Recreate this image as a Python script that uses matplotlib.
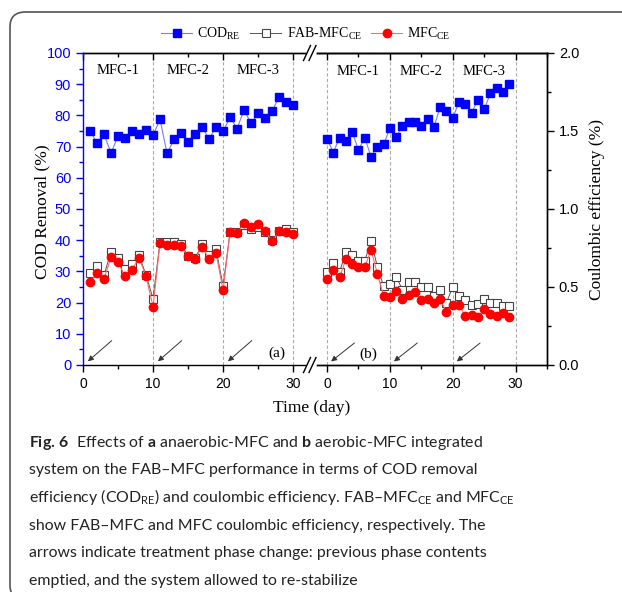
import matplotlib
matplotlib.use("Agg")
import matplotlib.pyplot as plt
from matplotlib.lines import Line2D
from matplotlib.patches import FancyBboxPatch

# ---- data ----
# panel (a): anaerobic-MFC, days 1-30
days_a = list(range(1, 31))
cod_a = [75.1, 71.1, 73.9, 68.0, 73.3, 72.9, 75.1, 73.9, 75.3, 73.7,
         78.7, 67.8, 72.3, 74.5, 71.4, 74.0, 76.4, 72.3, 76.4, 74.9,
         79.4, 75.8, 81.7, 77.5, 80.7, 79.1, 81.3, 86.0, 84.2, 83.3]
fab_ce_a = [29.6, 31.7, 28.8, 36.3, 34.4, 30.7, 32.4, 35.3, 28.8, 21.3,
            39.5, 39.5, 39.5, 38.8, 34.9, 34.2, 38.7, 35.3, 37.1, 25.3,
            42.7, 42.5, 44.9, 43.6, 44.3, 42.7, 40.0, 42.9, 43.5, 42.7]
mfc_ce_a = [26.7, 29.4, 27.6, 34.5, 33.1, 28.4, 30.6, 34.4, 28.4, 18.7,
            39.0, 38.5, 38.5, 38.0, 34.9, 34.0, 37.9, 34.0, 36.0, 23.9,
            42.6, 42.2, 45.4, 44.2, 45.2, 42.8, 39.8, 42.8, 42.7, 42.0]

# panel (b): aerobic-MFC, days 0-29 (CE on right axis)
days_b = list(range(0, 30))
cod_b = [72.5, 68.1, 72.9, 71.9, 74.7, 68.9, 72.9, 66.7, 70.0, 70.7,
         75.9, 73.2, 76.5, 77.8, 78.0, 76.7, 78.7, 76.2, 82.7, 81.4,
         79.1, 84.4, 83.5, 80.9, 84.9, 81.9, 87.1, 88.9, 87.6, 90.0]
fab_ce_b = [0.598, 0.652, 0.598, 0.722, 0.702, 0.666, 0.668, 0.796, 0.630, 0.506,
            0.520, 0.566, 0.482, 0.530, 0.534, 0.502, 0.498, 0.442, 0.480, 0.400,
            0.500, 0.442, 0.416, 0.386, 0.388, 0.422, 0.396, 0.396, 0.380, 0.378]
mfc_ce_b = [0.554, 0.608, 0.562, 0.678, 0.650, 0.626, 0.626, 0.740, 0.584, 0.444,
            0.434, 0.472, 0.426, 0.450, 0.468, 0.416, 0.424, 0.398, 0.422, 0.342,
            0.382, 0.382, 0.314, 0.320, 0.306, 0.358, 0.324, 0.316, 0.332, 0.310]

phase_lines = [0, 10, 20, 30]
phase_names = ["MFC-1", "MFC-2", "MFC-3"]
phase_mid = [5, 15, 25]

caption_lines = [
    r"$\mathbf{Fig.\,6}$  Effects of $\mathbf{a}$ anaerobic-MFC and $\mathbf{b}$ aerobic-MFC integrated",
    "system on the FAB–MFC performance in terms of COD removal",
    r"efficiency (COD$_{\mathregular{RE}}$) and coulombic efficiency. FAB–MFC$_{\mathregular{CE}}$ and MFC$_{\mathregular{CE}}$",
    "show FAB–MFC and MFC coulombic efficiency, respectively. The",
    "arrows indicate treatment phase change: previous phase contents",
    "emptied, and the system allowed to re-stabilize",
]

plt.rcParams['mathtext.fontset'] = 'custom'
plt.rcParams['mathtext.rm'] = 'Lato'
plt.rcParams['mathtext.bf'] = 'Lato:bold'
plt.rcParams['mathtext.it'] = 'Lato:italic'

serif = 'Liberation Serif'
sans = 'Liberation Sans'
blue = '#0000ff'
W, H = 622, 592

fig = plt.figure(figsize=(W / 100, H / 100), dpi=100)

def fx(px):
    return px / W

def fy(py):
    return 1 - py / H

# rounded frame around chart + caption
frame = FancyBboxPatch((fx(10), fy(600)), fx(640) - fx(10), fy(12) - fy(600),
                       boxstyle="round,pad=0,rounding_size=0.025",
                       transform=fig.transFigure, fill=False,
                       edgecolor='#555555', linewidth=1.2)
fig.patches.append(frame)

bottom, top = fy(365), fy(53)
ax1 = fig.add_axes([fx(83), bottom, fx(305) - fx(83), top - bottom])
ax2 = fig.add_axes([fx(317), bottom, fx(547) - fx(317), top - bottom])
ax2r = ax2.twinx()

for ax in (ax1, ax2):
    ax.set_ylim(0, 100)
ax1.set_xlim(0, 31.7)
ax2.set_xlim(-1.6, 35)
ax2r.set_ylim(0, 2.0)

# phase separators
for x in phase_lines[1:]:
    ax1.axvline(x, color='#aaaaaa', lw=0.8, ls=(0, (3, 2)), zorder=0)
for x in phase_lines:
    ax2.axvline(x, color='#aaaaaa', lw=0.8, ls=(0, (3, 2)), zorder=0)

cod_style = dict(color='#7a7aff', lw=0.8, marker='s', ms=5.2, mfc=blue, mec=blue)
fab_style = dict(color='#555555', lw=0.7, marker='s', ms=5.3, mfc='white', mec='#444444', mew=0.8)
mfc_style = dict(color='#ff6a6a', lw=0.8, marker='o', ms=6.0, mfc='#ff0000', mec='#ff0000')

ax1.plot(days_a, cod_a, **cod_style)
ax1.plot(days_a, fab_ce_a, **fab_style)
ax1.plot(days_a, mfc_ce_a, **mfc_style)

ax2.plot(days_b, cod_b, **cod_style)
ax2r.plot(days_b, fab_ce_b, **fab_style)
ax2r.plot(days_b, mfc_ce_b, **mfc_style)

# phase names and arrows
for name, xm in zip(phase_names, phase_mid):
    ax1.text(xm, 94.5, name, ha='center', va='center', family=serif, fontsize=10.5)
    ax2.text(xm, 94.0, name, ha='center', va='center', family=serif, fontsize=10.5)
arrow = dict(arrowstyle='-|>', color='#333333', lw=0.7, mutation_scale=8)
for x0 in phase_lines[:3]:
    ax1.annotate('', xy=(x0 + 0.4, 0.6), xytext=(x0 + 4.4, 8.4), arrowprops=arrow)
    ax2.annotate('', xy=(x0 + 0.3, 0.6), xytext=(x0 + 4.7, 7.6), arrowprops=arrow)
ax1.text(27.7, 3.7, "(a)", ha='center', va='center', family=serif, fontsize=11)
ax2.text(6.6, 3.5, "(b)", ha='center', va='center', family=serif, fontsize=11)

# spines and ticks
ax1.spines['right'].set_visible(False)
ax1.spines['left'].set_color(blue)
ax2.spines['left'].set_visible(False)
ax2r.spines['left'].set_visible(False)
for ax in (ax1, ax2, ax2r):
    for s in ax.spines.values():
        s.set_linewidth(1.0)

for ax in (ax1, ax2):
    ax.set_xticks([0, 10, 20, 30])
    ax.set_xticks([5, 15, 25] if ax is ax1 else [5, 15, 25, 35], minor=True)
    ax.tick_params(axis='x', which='major', direction='out', length=5, width=1,
                   labelsize=10, labelfontfamily=sans, top=False)
    ax.tick_params(axis='x', which='minor', direction='out', length=3, width=1, top=False)
    sec = ax.secondary_xaxis('top')
    sec.set_xticks([0, 10, 20, 30])
    sec.set_xticks([5, 15, 25, 35], minor=True)
    sec.tick_params(which='major', direction='in', length=5, width=1, labeltop=False)
    sec.tick_params(which='minor', direction='in', length=3, width=1)
    sec.spines['top'].set_linewidth(1.0)

ax1.set_yticks(range(0, 101, 10))
ax1.set_yticks(range(5, 100, 10), minor=True)
ax1.tick_params(axis='y', which='major', direction='out', length=5, width=1, colors=blue,
                labelsize=10.5, labelfontfamily=sans)
ax1.tick_params(axis='y', which='minor', direction='out', length=3, width=1, colors=blue)
ax2.tick_params(axis='y', left=False, labelleft=False)
ax2r.set_yticks([0, 0.5, 1.0, 1.5, 2.0])
ax2r.set_yticks([0.25, 0.75, 1.25, 1.75], minor=True)
ax2r.set_yticklabels(["0.0", "0.5", "1.0", "1.5", "2.0"])
ax2r.tick_params(axis='y', which='major', direction='out', length=5, width=1,
                 labelsize=10.5, labelfontfamily=sans)
ax2r.tick_params(axis='y', which='minor', direction='out', length=3, width=1)

ax1.set_ylabel("COD Removal (%)", family=serif, fontsize=12.5)
ax1.yaxis.set_label_coords((50 - 83) / 222, 0.49)
ax2r.set_ylabel("Coulombic efficiency (%)", family=serif, fontsize=12.5)
ax2r.yaxis.set_label_coords((589 - 317) / 230, 0.5)
fig.text(fx(312), fy(408), "Time (day)", ha='center', va='center', family=serif, fontsize=12.5)

# axis break marks
for yb in (53, 365):
    for xs in (303.5, 309.0):
        fig.add_artist(Line2D([fx(xs), fx(xs + 7)], [fy(yb + 7.5), fy(yb - 7.5)],
                              transform=fig.transFigure, color='black', lw=1.0))

# legend
handles = [Line2D([], [], **cod_style), Line2D([], [], **fab_style), Line2D([], [], **mfc_style)]
labels = [r"COD$_{\mathregular{RE}}$", r"FAB-MFC$_{\mathregular{CE}}$", r"MFC$_{\mathregular{CE}}$"]
fig.legend(handles, labels, loc='center', bbox_to_anchor=(fx(306), fy(34)), ncol=3,
           frameon=False, prop={'family': serif, 'size': 10}, handlelength=2.2,
           handletextpad=0.4, columnspacing=0.7)

# caption
for i, line in enumerate(caption_lines):
    fig.text(fx(29), fy(446.7 + 27.66 * i), line, ha='left', va='baseline',
             family='Lato', fontsize=11.4, color='#222222')

fig.savefig("out.png", dpi=100)
